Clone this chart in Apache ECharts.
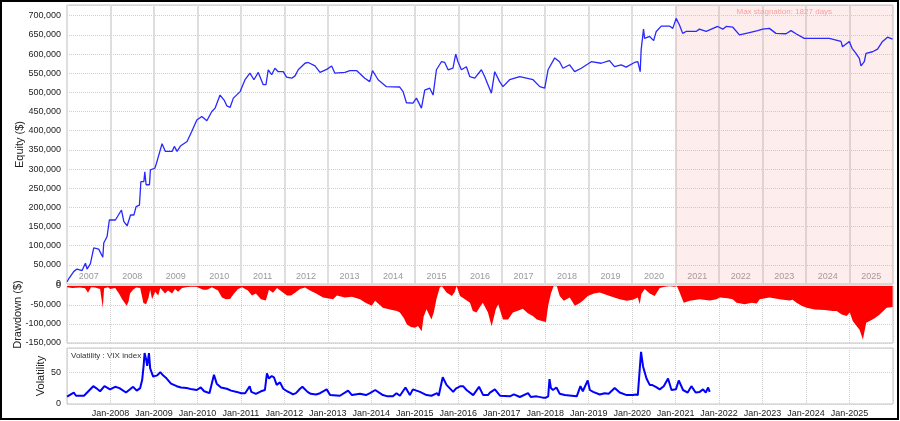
<!DOCTYPE html>
<html>
<head>
<meta charset="utf-8">
<script src="https://cdn.jsdelivr.net/npm/echarts@6/dist/echarts.min.js"></script>
<style>
html,body{margin:0;padding:0;background:#fff;}
#chart{width:900px;height:421px;}
</style>
</head>
<body>
<div id="chart"></div>
<script>
// ---------- DATA ----------
const yearLabels = ['2007','2008','2009','2010','2011','2012','2013','2014','2015','2016','2017','2018','2019','2020','2021','2022','2023','2024','2025'];
const axisStart = '2007-01-01';
const axisEnd = '2026-01-01';
const stagnationStart = '2020-12-31';
const stagnationEnd = '2026-01-01';
const stagnationLabel = 'Max stagnation: 1827 days';
const volLabel = 'Volatility : VIX index';

const equityDates = ['2007-01-02','2007-01-18','2007-02-28','2007-03-27','2007-05-08','2007-06-05','2007-06-19','2007-07-17','2007-08-14','2007-09-25','2007-10-29','2007-11-06','2007-12-04','2007-12-23','2008-02-12','2008-04-03','2008-04-23','2008-05-21','2008-06-18','2008-07-16','2008-08-04','2008-09-01','2008-09-13','2008-10-08','2008-10-16','2008-10-27','2008-11-24','2008-12-02','2009-01-08','2009-01-22','2009-02-11','2009-03-10','2009-04-07','2009-06-02','2009-06-21','2009-07-14','2009-08-11','2009-10-06','2009-11-14','2009-12-27','2010-02-07','2010-03-21','2010-05-02','2010-05-30','2010-07-10','2010-08-13','2010-09-05','2010-10-03','2010-10-30','2010-12-26','2011-02-05','2011-03-18','2011-04-21','2011-05-27','2011-07-08','2011-07-31','2011-08-19','2011-09-17','2011-10-14','2011-11-11','2011-12-23','2012-01-20','2012-03-03','2012-03-31','2012-04-27','2012-06-23','2012-07-20','2012-09-15','2012-10-27','2012-12-22','2013-02-02','2013-03-01','2013-05-24','2013-07-05','2013-08-30','2013-11-07','2013-12-19','2014-01-11','2014-02-27','2014-05-08','2014-08-28','2014-09-25','2014-10-23','2014-12-17','2015-01-15','2015-01-29','2015-02-26','2015-03-26','2015-05-07','2015-06-04','2015-07-02','2015-08-13','2015-09-10','2015-10-08','2015-11-18','2015-12-11','2015-12-30','2016-01-28','2016-03-10','2016-04-07','2016-05-19','2016-07-14','2016-08-11','2016-10-06','2016-11-03','2016-12-14','2017-01-11','2017-03-08','2017-06-01','2017-07-27','2017-09-21','2017-11-16','2017-12-28','2018-01-25','2018-03-22','2018-05-01','2018-05-30','2018-07-25','2018-09-05','2018-10-31','2019-01-23','2019-04-16','2019-06-25','2019-08-06','2019-10-01','2019-11-12','2020-01-21','2020-02-18','2020-03-09','2020-03-17','2020-04-06','2020-04-15','2020-05-27','2020-06-30','2020-07-22','2020-09-02','2020-11-10','2020-12-08','2021-01-05','2021-02-02','2021-03-01','2021-03-30','2021-06-22','2021-07-19','2021-09-14','2021-12-20','2022-02-01','2022-03-01','2022-04-26','2022-06-21','2022-09-13','2022-11-21','2023-01-02','2023-02-27','2023-04-24','2023-07-17','2023-08-28','2023-10-09','2023-12-17','2024-03-25','2024-07-15','2024-10-21','2024-11-03','2024-12-30','2025-01-22','2025-02-24','2025-03-24','2025-04-07','2025-05-05','2025-05-19','2025-07-13','2025-08-24','2025-10-05','2025-11-16','2025-12-28'];
const equityValues = [6000,15000,33000,39000,35000,54000,39000,53000,94000,91000,70000,107000,124000,167000,167000,193000,163000,152000,180000,180000,202000,206000,267000,267000,293000,259000,259000,298000,302000,315000,337000,366000,346000,346000,359000,346000,360000,372000,398000,428000,437000,426000,450000,459000,493000,480000,465000,461000,485000,502000,533000,550000,533000,552000,520000,520000,559000,546000,563000,554000,554000,540000,537000,543000,559000,576000,578000,569000,552000,560000,569000,550000,552000,557000,557000,537000,528000,557000,533000,515000,514000,502000,473000,472000,485000,480000,459000,506000,511000,493000,559000,580000,578000,559000,563000,600000,580000,559000,567000,541000,537000,559000,541000,498000,554000,528000,515000,533000,541000,537000,533000,515000,511000,559000,590000,580000,563000,572000,554000,563000,580000,576000,583000,567000,572000,566000,578000,580000,554000,611000,665000,641000,646000,635000,659000,673000,673000,667000,693000,676000,654000,659000,659000,665000,659000,672000,665000,672000,670000,650000,656000,661000,665000,667000,654000,653000,661000,653000,641000,641000,641000,633000,619000,633000,615000,602000,589000,569000,580000,602000,606000,613000,633000,644000,639000];

const drawdownDates = ['2007-01-02','2007-02-14','2007-04-20','2007-06-02','2007-06-27','2007-07-22','2007-08-25','2007-10-06','2007-10-29','2007-11-09','2007-12-12','2007-12-29','2008-02-10','2008-03-13','2008-04-08','2008-05-17','2008-06-02','2008-06-14','2008-07-09','2008-08-04','2008-09-07','2008-10-04','2008-10-27','2008-11-17','2008-11-30','2008-12-16','2009-01-11','2009-02-06','2009-02-23','2009-04-04','2009-04-29','2009-06-02','2009-06-27','2009-07-22','2009-08-25','2009-09-28','2009-11-01','2009-12-21','2010-02-19','2010-03-22','2010-05-03','2010-06-23','2010-07-26','2010-08-29','2010-10-02','2010-11-05','2010-12-08','2011-01-11','2011-03-01','2011-04-04','2011-05-07','2011-06-19','2011-07-05','2011-07-30','2011-08-25','2011-09-28','2011-11-01','2011-12-12','2012-01-24','2012-02-27','2012-03-31','2012-05-12','2012-06-23','2012-08-04','2012-09-24','2012-11-22','2013-02-14','2013-03-18','2013-05-24','2013-07-22','2013-09-28','2013-11-17','2014-01-05','2014-02-02','2014-04-08','2014-06-06','2014-08-04','2014-08-29','2014-10-02','2014-10-27','2014-11-30','2015-01-03','2015-01-28','2015-02-28','2015-03-17','2015-04-10','2015-05-21','2015-06-10','2015-07-02','2015-07-30','2015-08-16','2015-09-25','2015-11-09','2015-12-04','2015-12-18','2016-01-16','2016-02-27','2016-04-09','2016-05-03','2016-06-03','2016-07-01','2016-07-26','2016-09-07','2016-10-08','2016-10-21','2016-11-13','2016-12-02','2017-01-11','2017-02-23','2017-04-04','2017-05-16','2017-06-27','2017-08-08','2017-09-19','2017-10-23','2017-12-04','2018-01-07','2018-01-26','2018-02-18','2018-03-13','2018-04-08','2018-05-03','2018-06-06','2018-07-26','2018-09-07','2018-10-19','2018-11-13','2018-12-25','2019-02-14','2019-04-04','2019-05-16','2019-06-27','2019-09-19','2019-11-17','2020-01-07','2020-02-18','2020-03-05','2020-03-19','2020-04-16','2020-05-28','2020-07-09','2020-08-20','2020-10-02','2020-11-13','2020-12-25','2021-01-11','2021-01-28','2021-02-20','2021-03-10','2021-04-29','2021-07-22','2021-10-14','2021-12-10','2022-01-07','2022-03-14','2022-04-25','2022-05-28','2022-08-04','2022-10-02','2022-11-13','2022-12-08','2023-03-01','2023-05-24','2023-08-16','2023-09-11','2023-10-14','2023-11-25','2024-01-07','2024-03-14','2024-06-06','2024-08-12','2024-09-15','2024-10-27','2024-12-08','2025-01-03','2025-01-28','2025-03-01','2025-03-26','2025-04-23','2025-05-21','2025-06-19','2025-07-31','2025-09-11','2025-10-14','2025-11-09','2025-12-29'];
const drawdownValues = [-3000,-5000,-4000,-6000,-18000,-3000,-4000,-8000,-57000,-6000,-3000,-8000,-5000,-20000,-35000,-52000,-40000,-20000,-10000,-4000,-5000,-45000,-48000,-30000,-10000,-35000,-15000,-25000,-5000,-20000,-12000,-20000,-8000,-15000,-5000,-3000,-2000,-2000,-10000,-10000,-3000,-12000,-30000,-35000,-34000,-20000,-8000,-3000,-12000,-25000,-20000,-35000,-39000,-38000,-10000,-18000,-5000,-15000,-25000,-25000,-18000,-8000,-4000,-12000,-20000,-30000,-35000,-25000,-30000,-28000,-35000,-45000,-52000,-39000,-57000,-62000,-66000,-70000,-85000,-101000,-108000,-110000,-105000,-119000,-80000,-61000,-88000,-70000,-35000,-4000,0,-17000,-26000,-15000,0,-26000,-35000,-44000,-66000,-70000,-55000,-44000,-70000,-106000,-101000,-60000,-48000,-88000,-88000,-70000,-65000,-60000,-72000,-79000,-88000,-92000,-95000,-52000,-20000,0,0,-26000,-39000,-30000,-52000,-45000,-39000,-26000,-20000,-17000,-22000,-26000,-35000,-39000,-36000,-30000,-48000,-21000,-8000,-20000,-26000,-5000,-2000,0,-2000,0,-12000,-30000,-44000,-39000,-35000,-38000,-35000,-30000,-32000,-35000,-44000,-48000,-44000,-46000,-35000,-30000,-35000,-38000,-36000,-44000,-52000,-57000,-62000,-63000,-66000,-66000,-75000,-79000,-70000,-92000,-105000,-115000,-141000,-97000,-92000,-85000,-75000,-65000,-57000,-55000];

const vixDates = ['2007-01-02','2007-02-27','2007-03-18','2007-05-24','2007-08-10','2007-09-03','2007-10-06','2007-11-12','2007-12-29','2008-02-10','2008-03-17','2008-05-11','2008-07-10','2008-08-09','2008-09-07','2008-09-24','2008-10-06','2008-10-14','2008-10-27','2008-11-05','2008-11-20','2008-11-30','2008-12-25','2009-01-28','2009-02-23','2009-03-18','2009-04-18','2009-05-24','2009-07-11','2009-08-16','2009-10-03','2009-11-17','2009-12-27','2010-01-29','2010-02-27','2010-04-12','2010-05-20','2010-06-12','2010-07-18','2010-09-05','2010-10-11','2010-11-28','2011-01-03','2011-02-06','2011-03-16','2011-03-30','2011-05-07','2011-06-19','2011-07-05','2011-07-22','2011-08-08','2011-08-25','2011-09-17','2011-10-06','2011-10-29','2011-11-26','2011-12-23','2012-01-24','2012-02-18','2012-03-14','2012-04-08','2012-05-12','2012-06-01','2012-07-14','2012-08-10','2012-09-24','2012-10-27','2012-12-22','2013-01-20','2013-04-12','2013-06-20','2013-07-22','2013-09-28','2013-11-17','2013-12-21','2014-02-03','2014-04-08','2014-05-19','2014-07-01','2014-08-01','2014-08-29','2014-10-15','2014-11-21','2014-12-16','2015-02-14','2015-04-10','2015-05-21','2015-07-08','2015-07-21','2015-08-24','2015-09-25','2015-11-20','2015-12-12','2016-01-20','2016-02-11','2016-03-11','2016-05-06','2016-06-24','2016-07-29','2016-09-07','2016-09-24','2016-11-04','2016-12-17','2017-03-10','2017-04-13','2017-06-02','2017-08-10','2017-09-02','2017-10-20','2017-12-12','2018-01-07','2018-01-26','2018-02-06','2018-02-18','2018-03-07','2018-04-05','2018-05-03','2018-06-14','2018-08-12','2018-09-23','2018-10-24','2018-11-13','2018-12-24','2019-01-11','2019-02-08','2019-04-04','2019-05-16','2019-06-18','2019-08-08','2019-09-19','2019-11-17','2020-01-07','2020-02-01','2020-02-18','2020-03-16','2020-04-02','2020-05-01','2020-05-28','2020-06-15','2020-07-18','2020-08-20','2020-09-23','2020-10-29','2020-11-27','2021-01-03','2021-01-27','2021-03-04','2021-04-12','2021-05-13','2021-06-18','2021-07-22','2021-08-19','2021-09-11','2021-10-01','2021-10-14'];
const vixValues = [11.5,18,13,13,28,25,20,28,23,27,25,18,27,21,25,38,60,80,70,60,80,56,43,45,50,45,40,32,28,26,25,23,22,26,20,17,46,32,26,24,21,19,17,17,28,19,16,20,17,22,48,40,44,42,30,34,24,20,18,15,17,24,27,19,16,15,17,23,14,13,21,14,16,14,17,22,14,12,12,17,13,26,14,23,19,14,13,17,13,42,30,19,24,28,28,22,14,27,14,14,18,23,13,12,15,11,17,11,12,10,10,12,39,25,22,26,16,14,13,12,28,20,37,22,19,15,17,16,25,18,14,14,15,14,82,59,40,30,30,27,23,28,40,22,23,37,22,18,28,18,19,23,18,26,19];

// ---------- CHART ----------
const YEAR_MS = 365.25 * 24 * 3600 * 1000;          // one (Julian) year: tick spacing
const ts = (s) => Date.parse(s);                      // UTC timestamp of a date string
const xMin = Math.round(ts(axisStart) / YEAR_MS) * YEAR_MS;   // multiple of the interval
const xMax = Math.round(ts(axisEnd) / YEAR_MS) * YEAR_MS;
const zip = (d, v) => d.map((x, i) => [ts(x), v[i]]);
const FONT = 'Liberation Sans';
const chart = echarts.init(document.getElementById('chart'), null, {renderer: 'canvas'});

const gridBase = {left: 67, right: 7, show: true, borderColor: '#c4c4c4', borderWidth: 1,
                  backgroundColor: '#ffffff', containLabel: false, outerBoundsMode: 'none'};
const dotted = {show: true, lineStyle: {type: 'dotted', color: '#cfcfcf', width: 1}};
const yearAxis = (g, labels) => ({
  type: 'value', gridIndex: g, min: xMin, max: xMax, interval: YEAR_MS,
  axisLine: {show: false, onZero: false}, axisTick: {show: false},
  axisLabel: labels ? {show: true, showMinLabel: false, showMaxLabel: false, fontSize: 9, color: '#222', margin: 5,
                       fontFamily: FONT, formatter: (v) => 'Jan-' + (1970 + Math.round(v / YEAR_MS))}
                    : {show: false},
  splitLine: g === 0 ? {show: true, lineStyle: {color: '#dedede', width: 2}} : dotted
});
const yName = (text, gap) => ({name: text, nameLocation: 'middle', nameGap: gap, nameMoveOverlap: false,
  nameTextStyle: {fontSize: 11, color: '#222', fontFamily: FONT}});

const option = {
  animation: false,
  backgroundColor: '#ffffff',
  textStyle: {fontFamily: FONT},
  grid: [
    Object.assign({top: 5, height: 279}, gridBase),
    Object.assign({top: 286, height: 57}, gridBase),
    Object.assign({top: 348, height: 56}, gridBase)
  ],
  xAxis: [
    yearAxis(0, false),
    {type: 'category', gridIndex: 0, data: yearLabels, boundaryGap: true, position: 'bottom',
     axisLine: {show: false, onZero: false}, axisTick: {show: false},
     axisLabel: {inside: true, interval: 0, color: '#9a9a9a', fontSize: 9, margin: 3, fontFamily: FONT},
     splitLine: {show: false}},
    yearAxis(1, false),
    yearAxis(2, true)
  ],
  yAxis: [
    Object.assign({type: 'value', gridIndex: 0, min: 0, max: 728000, interval: 50000,
     axisLine: {show: false}, axisTick: {show: false},
     axisLabel: {showMaxLabel: false, fontSize: 9, color: '#222', margin: 6, fontFamily: FONT},
     splitLine: dotted}, yName('Equity ($)', 42)),
    Object.assign({type: 'value', gridIndex: 1, min: -150000, max: 0, interval: 50000,
     axisLine: {show: false}, axisTick: {show: false},
     axisLabel: {fontSize: 9, color: '#222', margin: 6, fontFamily: FONT},
     splitLine: dotted}, yName('Drawdown ($)', 44)),
    Object.assign({type: 'value', gridIndex: 2, min: 0, max: 88, interval: 50,
     axisLine: {show: false}, axisTick: {show: false},
     axisLabel: {showMaxLabel: false, fontSize: 9, color: '#222', margin: 6, fontFamily: FONT},
     splitLine: dotted}, yName('Volatility', 21))
  ],
  series: [
    {name: 'Equity', type: 'line', xAxisIndex: 0, yAxisIndex: 0, data: zip(equityDates, equityValues),
     showSymbol: false, lineStyle: {color: '#2828ff', width: 1.3}, z: 5,
     markArea: {silent: true,
       itemStyle: {color: 'rgba(240,140,140,0.16)'},
       label: {show: true, position: 'insideTop', distance: 3, color: '#f5a3a3', fontSize: 8, fontFamily: FONT, formatter: stagnationLabel},
       data: [[{xAxis: ts(stagnationStart)}, {xAxis: ts(stagnationEnd)}]]}},
    {name: 'Drawdown', type: 'line', xAxisIndex: 2, yAxisIndex: 1, data: zip(drawdownDates, drawdownValues),
     showSymbol: false, lineStyle: {width: 0}, areaStyle: {color: '#ff0000', opacity: 1}, itemStyle: {color: '#ff0000'}},
    {name: 'VIX', type: 'line', xAxisIndex: 3, yAxisIndex: 2, data: zip(vixDates, vixValues),
     showSymbol: false, lineStyle: {color: '#0000ff', width: 2}}
  ],
  graphic: [
    {type: 'text', left: 71, top: 352, style: {text: volLabel, fontSize: 8, fontFamily: FONT, fill: '#333'}},
    {type: 'rect', shape: {x: 1, y: 1, width: 897, height: 418}, style: {fill: null, stroke: '#000', lineWidth: 2}, silent: true, z: 100}
  ]
};
chart.setOption(option);
</script>
</body>
</html>
